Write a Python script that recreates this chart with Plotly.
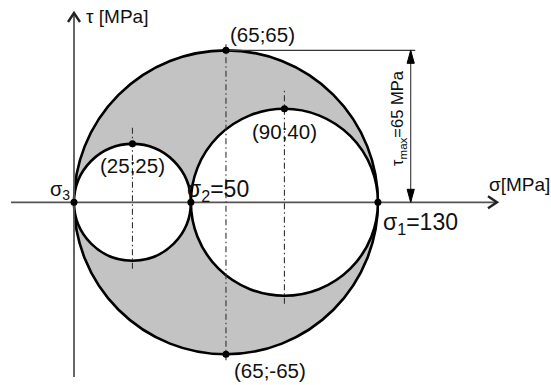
import plotly.graph_objects as go

# ---- data ----
sigma_values = [0, 50, 130]                      # sigma3, sigma2, sigma1 [MPa]
sigma_labels = ["σ<sub>3</sub>", "σ<sub>2</sub>=50", "σ<sub>1</sub>=130"]
point_sigma = [25, 90, 65, 65]
point_tau = [25, 40, 65, -65]
point_labels = ["(25;25)", "(90;40)", "(65;65)", "(65;-65)"]
tau_max = 65
tau_max_label = "τ<sub>max</sub>=65 MPa"
axis_labels = ["σ[MPa]", "τ [MPa]"]

# ---- layout constants ----
W, H = 551, 385
k = 2.338                 # px per MPa
ox, oy = 74, 202.3        # pixel position of origin
xr = [-ox / k, (W - ox) / k]
yr = [-(H - oy) / k, oy / k]
px = lambda p: p / k      # pixel length -> data length

FONT = "Liberation Sans, Arial, sans-serif"
GRAY = "#c3c3c3"
AX = "#555555"

s3, s2, s1 = sigma_values
circles = [((s3 + s1) / 2, (s1 - s3) / 2, GRAY),
           ((s3 + s2) / 2, (s2 - s3) / 2, "white"),
           ((s2 + s1) / 2, (s1 - s2) / 2, "white")]

shapes = []
for c, r, fc in circles:
    shapes.append(dict(type="circle", xref="x", yref="y", x0=c - r, x1=c + r, y0=-r, y1=r,
                       fillcolor=fc, line=dict(color="black", width=2.6), layer="below"))

# axes
x_left, x_tip = xr[0] + px(11), xr[0] + px(497)
y_bot, y_tip = yr[0] + px(H - 377), yr[1] - px(13)
shapes.append(dict(type="line", x0=x_left, x1=x_tip, y0=0, y1=0,
                   line=dict(color=AX, width=1.8), layer="below"))
shapes.append(dict(type="line", x0=0, x1=0, y0=y_bot, y1=y_tip,
                   line=dict(color=AX, width=1.8), layer="below"))

# dash-dot centre lines
ext = [(px(6), px(6)), (px(16), px(8)), (px(18), px(8))]
for (c, r, _), (eu, ed) in zip(circles, ext):
    shapes.append(dict(type="line", x0=c, x1=c, y0=-r - ed, y1=r + eu,
                       line=dict(color="#333333", width=1.1, dash="6px,3px,1.5px,3px"), layer="below"))

# tau_max dimension line
dim_x = (410.7 - ox) / k
shapes.append(dict(type="line", x0=point_sigma[2], x1=dim_x + px(4.5), y0=tau_max, y1=tau_max,
                   line=dict(color="#333333", width=1.1), layer="below"))
shapes.append(dict(type="line", x0=dim_x, x1=dim_x, y0=0, y1=tau_max,
                   line=dict(color="#333333", width=1.1), layer="below"))

fig = go.Figure()

# arrow heads of dimension line
hl, hw = px(13), px(3.6)
fig.add_trace(go.Scatter(
    x=[dim_x, dim_x - hw, dim_x + hw, dim_x, None, dim_x, dim_x - hw, dim_x + hw, dim_x],
    y=[tau_max, tau_max - hl, tau_max - hl, tau_max, None, 0, hl, hl, 0],
    mode="lines", fill="toself", fillcolor="black", line=dict(color="black", width=1),
    hoverinfo="skip", showlegend=False))

# axis chevrons
cd, cw = px(9), px(6)
fig.add_trace(go.Scatter(x=[x_tip - cd, x_tip, x_tip - cd], y=[cw, 0, -cw], mode="lines",
                         line=dict(color="#222222", width=2.4), hoverinfo="skip", showlegend=False))
fig.add_trace(go.Scatter(x=[-cw, 0, cw], y=[y_tip - cd, y_tip, y_tip - cd], mode="lines",
                         line=dict(color="#222222", width=2.4), hoverinfo="skip", showlegend=False))

# points
fig.add_trace(go.Scatter(x=sigma_values + point_sigma, y=[0, 0, 0] + point_tau, mode="markers",
                         marker=dict(color="black", size=7), hoverinfo="skip", showlegend=False))

ann = []
def A(text, x, y, xanchor="center", yanchor="middle", xshift=0, yshift=0, size=20, angle=0):
    ann.append(dict(text=text, x=x, y=y, xref="x", yref="y", showarrow=False,
                    xanchor=xanchor, yanchor=yanchor, xshift=xshift, yshift=yshift,
                    textangle=angle, font=dict(family=FONT, size=size, color="#111111")))

# principal stress labels
A(sigma_labels[0], sigma_values[0], 0, xanchor="right", xshift=-2, yshift=12, size=20)
A(sigma_labels[1], sigma_values[1], 0, xanchor="left", xshift=-6, yshift=12, size=23)
A(sigma_labels[2], sigma_values[2], 0, xanchor="left", xshift=3, yshift=-21, size=23)

# point labels
A(point_labels[0], point_sigma[0], point_tau[0], yshift=-22, size=20.5)
A(point_labels[1], point_sigma[1], point_tau[1], yshift=-23, size=20.5)
A(point_labels[2], point_sigma[2], point_tau[2], xanchor="left", xshift=2, yshift=16, size=20.5)
A(point_labels[3], point_sigma[3], point_tau[3], xanchor="left", xshift=6, yshift=-16, size=20.5)

# axis labels
A(axis_labels[0], x_tip, 0, xanchor="left", xshift=-10, yshift=18, size=19)
A(axis_labels[1], 0, y_tip, xanchor="left", xshift=10, yshift=-3, size=19)

# tau max
A(tau_max_label, dim_x, tau_max / 2, xshift=-12, yshift=8, size=16.5, angle=-90)

fig.update_layout(
    width=W, height=H, margin=dict(l=0, r=0, t=0, b=0),
    paper_bgcolor="white", plot_bgcolor="white",
    xaxis=dict(range=xr, visible=False, fixedrange=True),
    yaxis=dict(range=yr, visible=False, fixedrange=True),
    shapes=shapes, annotations=ann, showlegend=False)

fig.write_html("out.html", config={"displayModeBar": False},
               post_script="document.body.style.margin='0';document.body.style.overflow='hidden';")
